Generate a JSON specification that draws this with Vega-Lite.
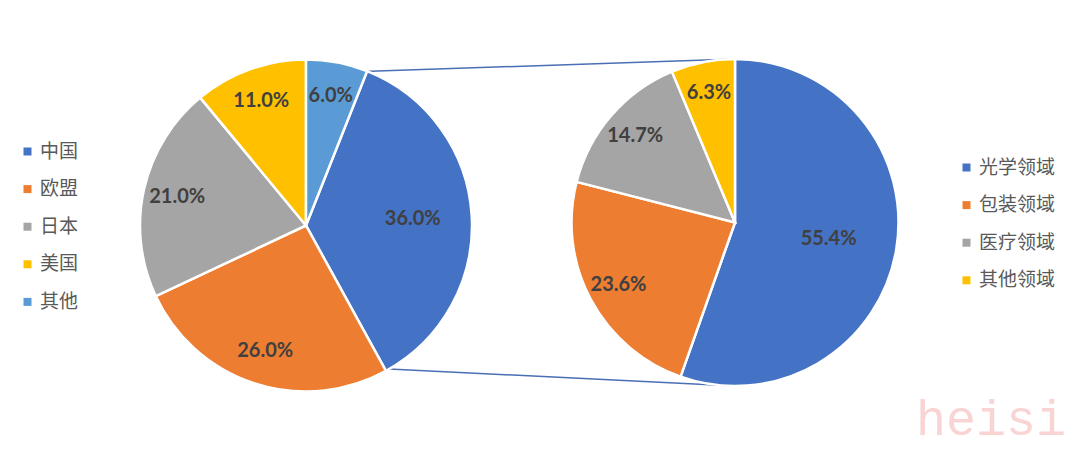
{
  "$schema": "https://vega.github.io/schema/vega-lite/v6.json",
  "width": 1080,
  "height": 449,
  "padding": 0,
  "autosize": {"type": "none"},
  "background": "white",
  "config": {"view": {"stroke": null}},
  "title": {
    "text": "heisi",
    "orient": "bottom",
    "anchor": "end",
    "font": "Liberation Mono",
    "fontSize": 50,
    "fontWeight": "normal",
    "color": "#F9D4D4",
    "offset": 0,
    "dx": -14,
    "dy": -54
  },
  "datasets": {
    "region": [
      {"name": "中国", "share": 0.36},
      {"name": "欧盟", "share": 0.26},
      {"name": "日本", "share": 0.21},
      {"name": "美国", "share": 0.11},
      {"name": "其他", "share": 0.06}
    ],
    "field": [
      {"name": "光学领域", "share": 0.554},
      {"name": "包装领域", "share": 0.236},
      {"name": "医疗领域", "share": 0.147},
      {"name": "其他领域", "share": 0.063}
    ]
  },
  "resolve": {
    "scale": {"theta": "independent", "color": "independent"},
    "legend": {"color": "independent"}
  },
  "layer": [
    {
      "data": {"values": [{}]},
      "mark": {"type": "rule", "color": "#4A6FB5", "strokeWidth": 1.5, "xOffset": 57, "yOffset": -154, "y2Offset": -163.5},
      "encoding": {
        "x": {"datum": "A", "type": "nominal", "scale": {"domain": ["A", "B"], "range": [306, 735], "type": "point", "padding": 0}, "axis": null},
        "x2": {"datum": "B"},
        "y": {"datum": "A", "type": "nominal", "scale": {"domain": ["A", "B"], "range": [225.5, 222.5], "type": "point", "padding": 0}, "axis": null},
        "y2": {"datum": "B"}
      }
    },
    {
      "data": {"values": [{}]},
      "mark": {"type": "rule", "color": "#4A6FB5", "strokeWidth": 1.5, "xOffset": 83, "yOffset": 143.5, "y2Offset": 163.5},
      "encoding": {
        "x": {"datum": "A", "type": "nominal"},
        "x2": {"datum": "B"},
        "y": {"datum": "A", "type": "nominal"},
        "y2": {"datum": "B"}
      }
    },
    {
      "data": {"name": "region"},
      "encoding": {
        "x": {"datum": "A", "type": "nominal"},
        "y": {"datum": "A", "type": "nominal"},
        "theta": {"field": "share", "type": "quantitative", "stack": true, "scale": {"range": [0.376991, 6.660176]}},
        "order": {"field": "share", "sort": "descending"},
        "color": {
          "field": "name",
          "type": "nominal",
          "scale": {"domain": ["中国", "欧盟", "日本", "美国", "其他"], "range": ["#4472C4", "#ED7D31", "#A5A5A5", "#FFC000", "#5B9BD5"]},
          "legend": {
            "title": null,
            "orient": "none",
            "legendX": 18,
            "legendY": 142,
            "symbolType": "square",
            "symbolSize": 64,
            "symbolStrokeWidth": 0,
            "labelFont": "Noto Sans CJK SC",
            "labelFontSize": 19,
            "labelColor": "#595959",
            "labelOffset": 3,
            "rowPadding": 17.6
          }
        }
      },
      "layer": [
        {"mark": {"type": "arc", "radius": 166, "stroke": "white", "strokeWidth": 2.5}},
        {
          "mark": {"type": "text", "radius": 132, "font": "Lato", "fontSize": 20, "fontWeight": "bold"},
          "encoding": {
            "text": {"condition": {"test": "datum.share < 0.3", "field": "share", "type": "quantitative", "format": ".1%"}, "value": ""},
            "color": {"value": "#404040"}
          }
        },
        {
          "mark": {"type": "text", "radius": 107, "font": "Lato", "fontSize": 20, "fontWeight": "bold"},
          "encoding": {
            "text": {"condition": {"test": "datum.share >= 0.3", "field": "share", "type": "quantitative", "format": ".1%"}, "value": ""},
            "color": {"value": "#404040"}
          }
        }
      ]
    },
    {
      "data": {"name": "field"},
      "encoding": {
        "x": {"datum": "B", "type": "nominal"},
        "y": {"datum": "B", "type": "nominal"},
        "theta": {"field": "share", "type": "quantitative", "stack": true},
        "order": {"field": "share", "sort": "descending"},
        "color": {
          "field": "name",
          "type": "nominal",
          "scale": {"domain": ["光学领域", "包装领域", "医疗领域", "其他领域"], "range": ["#4472C4", "#ED7D31", "#A5A5A5", "#FFC000"]},
          "legend": {
            "title": null,
            "orient": "none",
            "legendX": 957,
            "legendY": 158,
            "symbolType": "square",
            "symbolSize": 64,
            "symbolStrokeWidth": 0,
            "labelFont": "Noto Sans CJK SC",
            "labelFontSize": 19,
            "labelColor": "#595959",
            "labelOffset": 3,
            "rowPadding": 17.6
          }
        }
      },
      "layer": [
        {"mark": {"type": "arc", "radius": 163.5, "stroke": "white", "strokeWidth": 2.5}},
        {
          "mark": {"type": "text", "radius": 132, "font": "Lato", "fontSize": 20, "fontWeight": "bold"},
          "encoding": {
            "text": {"condition": {"test": "datum.share < 0.3", "field": "share", "type": "quantitative", "format": ".1%"}, "value": ""},
            "color": {"value": "#404040"}
          }
        },
        {
          "mark": {"type": "text", "radius": 95, "font": "Lato", "fontSize": 20, "fontWeight": "bold"},
          "encoding": {
            "text": {"condition": {"test": "datum.share >= 0.3", "field": "share", "type": "quantitative", "format": ".1%"}, "value": ""},
            "color": {"value": "#404040"}
          }
        }
      ]
    }
  ]
}
